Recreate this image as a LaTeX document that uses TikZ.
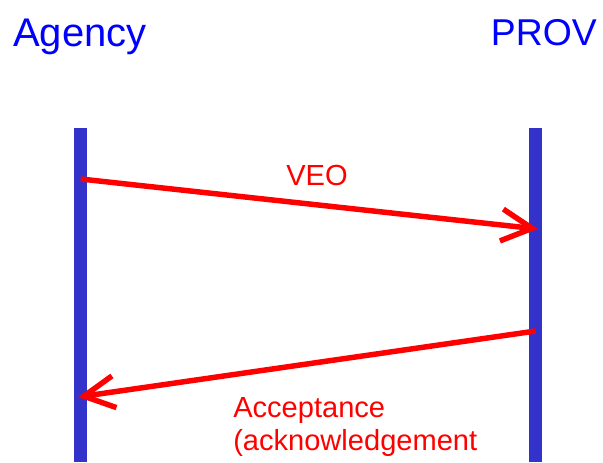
\documentclass[tikz,border=0pt]{standalone}
\usepackage{fontspec}
\setmainfont{Liberation Sans}
\usepackage{xcolor}
\usepackage{tikz}
\usetikzlibrary{arrows.meta, positioning}

\definecolor{lifeblue}{RGB}{51,51,204}

\begin{document}
\begin{tikzpicture}[x=0.75pt, y=-0.75pt,
    party/.style={inner sep=0pt, text=blue, font=\fontsize{30}{36}\selectfont},
    lifeline/.style={draw=lifeblue, line width=9.75pt},
    msg/.style={draw=red, line width=4.1pt, -{Straight Barb[length=23pt, width=24pt]}},
    msglabel/.style={inner sep=0pt, text=red, font=\fontsize{21.8}{24.75}\selectfont}]
    \useasboundingbox (0, 0) rectangle (603, 462);

    \node[party, anchor=base west] (agency) at (13, 46) {Agency};
    \node[party, anchor=base east, font=\fontsize{28}{34}\selectfont] (prov) at (597, 45) {PROV};

    % lifelines
    \coordinate (agencyTop) at (80.5, 128);
    \coordinate (agencyBot) at (80.5, 462);
    \coordinate (provTop) at (535.5, 128);
    \coordinate (provBot) at (535.5, 462);
    \draw[lifeline] (agencyTop) -- (agencyBot);
    \draw[lifeline] (provTop) -- (provBot);

    % messages
    \coordinate (veoFrom) at (80.7, 179);
    \coordinate (veoTo) at (538, 229);
    \coordinate (accFrom) at (535.7, 331);
    \coordinate (accTo) at (78, 397);
    \draw[msg] (veoFrom) -- (veoTo);
    \draw[msg] (accFrom) -- (accTo);

    \node[msglabel, anchor=base] (veo) at (317, 185) {VEO};
    \node[msglabel, anchor=base west, align=left] (acc) at (233, 450) {Acceptance\\(acknowledgement};
\end{tikzpicture}
\end{document}
